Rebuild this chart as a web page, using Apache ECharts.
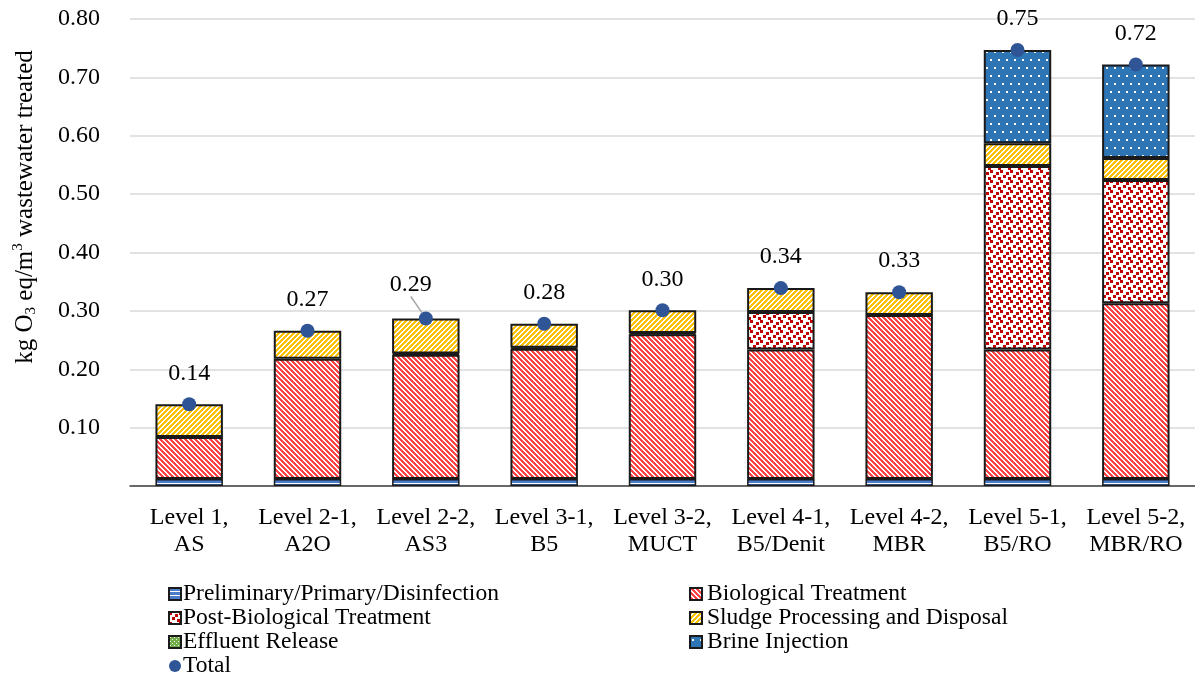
<!DOCTYPE html>
<html>
<head>
<meta charset="utf-8">
<script src="https://cdn.jsdelivr.net/npm/echarts@6/dist/echarts.min.js"></script>
<style>
  html, body { margin: 0; padding: 0; background: #fff; }
  #chart { width: 1195px; height: 683px; }
</style>
</head>
<body>
<div id="chart"></div>
<script>
// ---- Data ----
const categories = ['Level 1,\nAS', 'Level 2-1,\nA2O', 'Level 2-2,\nAS3', 'Level 3-1,\nB5', 'Level 3-2,\nMUCT', 'Level 4-1,\nB5/Denit', 'Level 4-2,\nMBR', 'Level 5-1,\nB5/RO', 'Level 5-2,\nMBR/RO'];
const prelim   = [0.012, 0.012, 0.012, 0.012, 0.012, 0.012, 0.012, 0.012, 0.012];
const bio      = [0.072, 0.206, 0.213, 0.223, 0.248, 0.222, 0.281, 0.222, 0.301];
const postBio  = [0, 0, 0.002, 0.002, 0.002, 0.064, 0, 0.314, 0.211];
const sludge   = [0.056, 0.048, 0.060, 0.041, 0.039, 0.041, 0.039, 0.039, 0.038];
const effluent = [0, 0, 0, 0, 0, 0, 0, 0, 0];
const brine    = [0, 0, 0, 0, 0, 0, 0, 0.160, 0.160];
const total    = [0.140, 0.266, 0.287, 0.278, 0.301, 0.339, 0.332, 0.747, 0.722];
const seriesNames = ['Preliminary/Primary/Disinfection', 'Biological Treatment', 'Post-Biological Treatment', 'Sludge Processing and Disposal', 'Effluent Release', 'Brine Injection', 'Total'];
const yTicks = [0.1, 0.2, 0.3, 0.4, 0.5, 0.6, 0.7, 0.8];

// ---- Patterns ----
function tile(w, h, bg, fg, test) {
  const c = document.createElement('canvas');
  c.width = w; c.height = h;
  const ctx = c.getContext('2d');
  ctx.fillStyle = bg; ctx.fillRect(0, 0, w, h);
  ctx.fillStyle = fg;
  for (let x = 0; x < w; x++) for (let y = 0; y < h; y++) if (test(x, y)) ctx.fillRect(x, y, 1, 1);
  return { image: c, repeat: 'repeat' };
}
const pPrelim = tile(4, 4, '#ffffff', '#4A7CCB', (x, y) => y < 3);
const pBio = tile(5, 5, '#ffffff', '#FF4545', (x, y) => ((x - y) % 5 + 5) % 5 < 3);
const pSludge = tile(5, 5, '#ffffff', '#FFC000', (x, y) => ((x + y) % 5) < 3);
const pPost = (function () {
  const c = document.createElement('canvas'); c.width = 10; c.height = 10;
  const ctx = c.getContext('2d');
  ctx.fillStyle = '#ffffff'; ctx.fillRect(0, 0, 10, 10);
  ctx.fillStyle = '#C00000';
  ctx.fillRect(0, 0, 3, 3); ctx.fillRect(6, 2, 3, 3); ctx.fillRect(3, 5, 3, 3); ctx.fillRect(8, 7, 2, 3); ctx.fillRect(0, 7, 1, 3);
  return { image: c, repeat: 'repeat' };
})();
const pBrine = (function () {
  const c = document.createElement('canvas'); c.width = 8; c.height = 16;
  const ctx = c.getContext('2d');
  ctx.fillStyle = '#2E75B6'; ctx.fillRect(0, 0, 8, 16);
  ctx.fillStyle = '#ffffff';
  ctx.fillRect(2, 3, 2, 2); ctx.fillRect(6, 11, 2, 2);
  return { image: c, repeat: 'repeat' };
})();
const pEffluent = tile(4, 4, '#70AD47', '#ffffff', (x, y) => (x === 1 && y === 1) || (x === 3 && y === 3));

const FONT = "'Liberation Serif', 'Times New Roman', serif";
const patterns = [pPrelim, pBio, pPost, pSludge, pEffluent, pBrine];
const stacks = [prelim, bio, postBio, sludge, effluent, brine];

const barSeries = stacks.map((arr, i) => ({
  name: seriesNames[i],
  type: 'bar',
  stack: 'total',
  barWidth: '57%',
  itemStyle: { color: patterns[i], borderColor: '#1a1a1a', borderWidth: i === 0 ? 1.5 : 2 },
  emphasis: { disabled: true },
  data: arr.map(v => (v > 0 ? v : '-'))
}));

const totalSeries = {
  name: 'Total',
  type: 'scatter',
  symbol: 'circle',
  symbolSize: 14,
  itemStyle: { color: '#2F5597', opacity: 1 },
  emphasis: { disabled: true },
  z: 10,
  data: total.map((v, i) => (i === 2 ? { value: v, labelLine: { show: true } } : v)),
  label: {
    show: true,
    position: 'top',
    distance: 12,
    color: '#000',
    opacity: 1,
    fontFamily: FONT,
    fontSize: 24,
    formatter: p => p.value.toFixed(2)
  },
  labelLine: { show: false, lineStyle: { color: '#A6A6A6', width: 1.5 } },
  labelLayout: function (p) {
    if (p.dataIndex === 2) return { dx: -15, dy: -3 };
    return {};
  }
};

const chart = echarts.init(document.getElementById('chart'), null, { renderer: 'canvas' });
chart.setOption({
  animation: false,
  backgroundColor: '#ffffff',
  grid: { left: 130, right: -2, top: 19, bottom: 197, containLabel: false },
  legend: [
    {
      orient: 'vertical', left: 163, top: 577, itemGap: 0,
      itemWidth: 12, itemHeight: 12,
      data: [
        { name: seriesNames[0], icon: 'rect' },
        { name: seriesNames[2], icon: 'rect' },
        { name: seriesNames[4], icon: 'rect' },
        { name: seriesNames[6], icon: 'circle' }
      ],
      textStyle: { fontFamily: FONT, fontSize: 23.5, color: '#000', lineHeight: 23, padding: [0, 0, 0, -3] }
    },
    {
      orient: 'vertical', left: 684, top: 577, itemGap: 0,
      itemWidth: 12, itemHeight: 12,
      data: [
        { name: seriesNames[1], icon: 'rect' },
        { name: seriesNames[3], icon: 'rect' },
        { name: seriesNames[5], icon: 'rect' }
      ],
      textStyle: { fontFamily: FONT, fontSize: 23.5, color: '#000', lineHeight: 23, padding: [0, 0, 0, 0] }
    }
  ],
  xAxis: {
    type: 'category',
    data: categories,
    axisTick: { show: false },
    axisLine: { show: true, lineStyle: { color: '#404040', width: 1.5 } },
    axisLabel: { fontFamily: FONT, fontSize: 24, color: '#000', lineHeight: 27, margin: 18, interval: 0 }
  },
  yAxis: {
    type: 'value',
    min: 0, max: 0.8, interval: 0.1,
    axisLine: { show: false },
    axisTick: { show: false },
    splitLine: { show: true, lineStyle: { color: '#D9D9D9', width: 1.5 } },
    axisLabel: {
      fontFamily: FONT, fontSize: 24, color: '#000', margin: 30,
      formatter: v => (yTicks.some(t => Math.abs(t - v) < 1e-9) ? v.toFixed(2) : '')
    }
  },
  graphic: [{
    type: 'text',
    x: 25, y: 207,
    rotation: Math.PI / 2,
    style: {
      text: '{a|kg O}{s|3}{a| eq/m}{p|3}{a| wastewater treated}',
      align: 'center',
      verticalAlign: 'middle',
      fill: '#000',
      rich: {
        a: { fontFamily: FONT, fontSize: 25, lineHeight: 28, verticalAlign: 'middle', fill: '#000' },
        s: { fontFamily: FONT, fontSize: 15, lineHeight: 15, verticalAlign: 'bottom', fill: '#000' },
        p: { fontFamily: FONT, fontSize: 15, lineHeight: 15, verticalAlign: 'top', fill: '#000' }
      }
    }
  }],
  series: barSeries.concat([totalSeries])
});
</script>
</body>
</html>
